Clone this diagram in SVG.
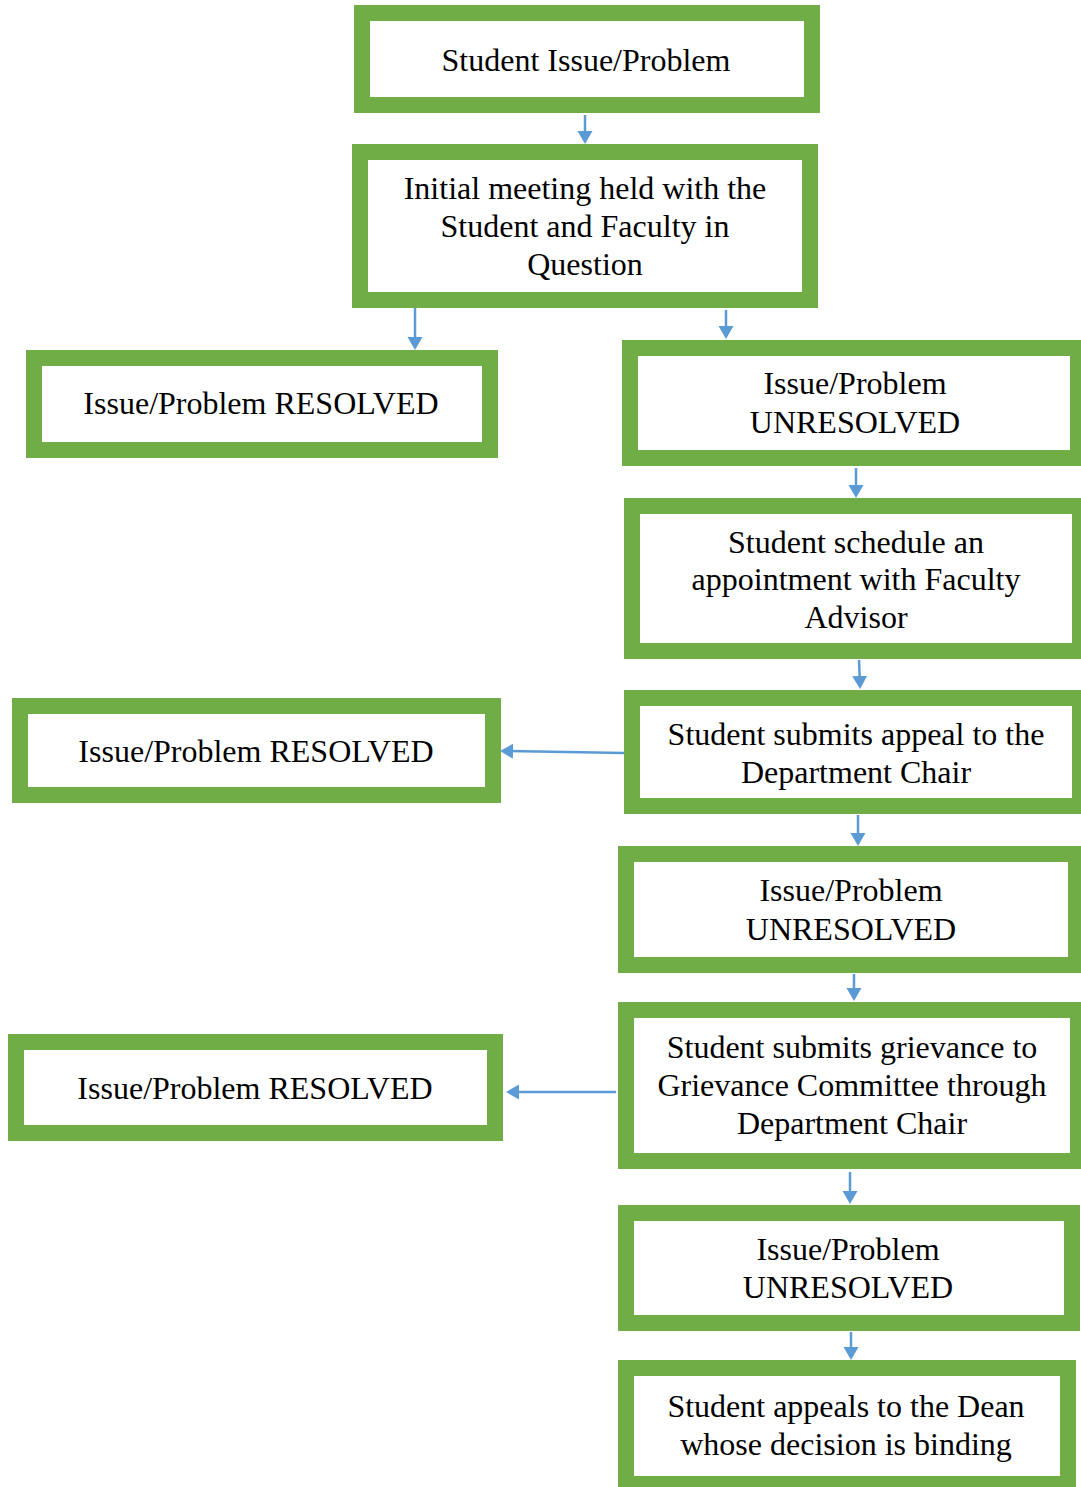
<svg xmlns="http://www.w3.org/2000/svg" width="1081" height="1487" viewBox="0 0 1081 1487">
<defs>
<style>
.box{fill:#fff;stroke:#70AD47;stroke-width:16}
.t{font-family:"Liberation Serif","Times New Roman",serif;font-size:32px;fill:#000;text-anchor:middle}
.c{stroke:#5B9BD5;stroke-width:2.5;fill:none;marker-end:url(#ah)}
</style>
<marker id="ah" markerUnits="userSpaceOnUse" markerWidth="16" markerHeight="16" refX="9" refY="7.5" orient="auto">
<path d="M0,0 L13,7.5 L0,15 z" fill="#5B9BD5"/>
</marker>
</defs>
<rect width="1081" height="1487" fill="#fff"/>
<g id="n1"><rect class="box" x="362" y="13" width="450" height="92"/><text class="t" x="586" y="71">Student Issue/Problem</text></g>
<g id="n2"><rect class="box" x="360" y="152" width="450" height="148"/><text class="t" x="585" y="199">Initial meeting held with the</text><text class="t" x="585" y="237">Student and Faculty in</text><text class="t" x="585" y="275">Question</text></g>
<g id="n3"><rect class="box" x="34" y="358" width="456" height="92"/><text class="t" x="261" y="414">Issue/Problem RESOLVED</text></g>
<g id="n4"><rect class="box" x="630" y="348" width="448" height="110"/><text class="t" x="855" y="394">Issue/Problem</text><text class="t" x="855" y="433">UNRESOLVED</text></g>
<g id="n5"><rect class="box" x="632" y="506" width="448" height="145"/><text class="t" x="856" y="553">Student schedule an</text><text class="t" x="856" y="590">appointment with Faculty</text><text class="t" x="856" y="628">Advisor</text></g>
<g id="n6"><rect class="box" x="632" y="698" width="448" height="108"/><text class="t" x="856" y="745">Student submits appeal to the</text><text class="t" x="856" y="783">Department Chair</text></g>
<g id="n7"><rect class="box" x="20" y="706" width="473" height="89"/><text class="t" x="256" y="762">Issue/Problem RESOLVED</text></g>
<g id="n8"><rect class="box" x="626" y="854" width="450" height="111"/><text class="t" x="851" y="901">Issue/Problem</text><text class="t" x="851" y="940">UNRESOLVED</text></g>
<g id="n9"><rect class="box" x="626" y="1010" width="452" height="151"/><text class="t" x="852" y="1058">Student submits grievance to</text><text class="t" x="852" y="1096">Grievance Committee through</text><text class="t" x="852" y="1134">Department Chair</text></g>
<g id="n10"><rect class="box" x="16" y="1042" width="479" height="91"/><text class="t" x="255" y="1099">Issue/Problem RESOLVED</text></g>
<g id="n11"><rect class="box" x="626" y="1213" width="446" height="110"/><text class="t" x="848" y="1260">Issue/Problem</text><text class="t" x="848" y="1298">UNRESOLVED</text></g>
<g id="n12"><rect class="box" x="626" y="1368" width="442" height="116"/><text class="t" x="846" y="1417">Student appeals to the Dean</text><text class="t" x="846" y="1455">whose decision is binding</text></g>
<g id="connectors">
<line class="c" x1="585" y1="115" x2="585" y2="140"/>
<line class="c" x1="415" y1="308" x2="415" y2="346"/>
<line class="c" x1="726" y1="310" x2="726" y2="335"/>
<line class="c" x1="856" y1="468" x2="856" y2="494"/>
<line class="c" x1="859" y1="660" x2="860" y2="685"/>
<line class="c" x1="624" y1="753" x2="504" y2="751"/>
<line class="c" x1="858" y1="815" x2="858" y2="842"/>
<line class="c" x1="854" y1="974" x2="854" y2="997"/>
<line class="c" x1="616" y1="1092" x2="510" y2="1092"/>
<line class="c" x1="850" y1="1172" x2="850" y2="1200"/>
<line class="c" x1="851" y1="1332" x2="851" y2="1356"/>
</g>
</svg>
